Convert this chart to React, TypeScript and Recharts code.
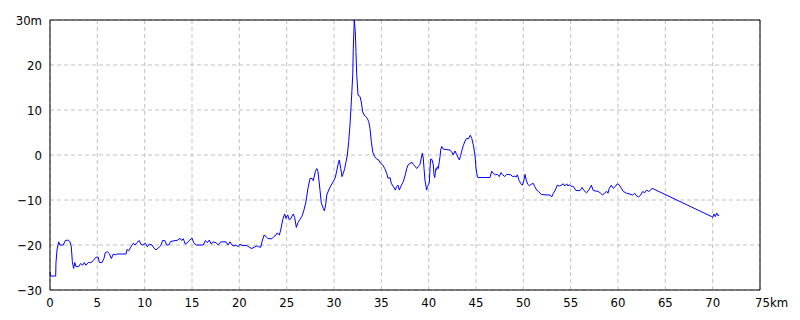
import { LineChart, Line, XAxis, YAxis, CartesianGrid, ReferenceLine } from "recharts";

// distance along the route (km)
const distKm = [
  0.0, 0.07, 0.6, 0.63, 0.74, 0.92, 1.06, 1.4, 1.62, 1.93, 2.11, 2.25, 2.36, 2.5, 2.61, 2.75, 3.03, 3.24, 3.45, 3.62,
  3.8, 4.05, 4.3, 4.57, 4.86, 5.1, 5.21, 5.49, 5.7, 5.84, 6.05, 6.26, 6.48, 6.69, 6.9, 7.11, 8.03, 8.13, 8.31, 8.52,
  8.8, 8.98, 9.16, 9.43, 9.58, 9.79, 10.07, 10.28, 10.49, 10.77, 10.99, 11.2, 11.41, 11.69, 11.9, 12.12, 12.33, 12.54, 12.75, 13.31,
  13.52, 13.73, 13.91, 14.08, 14.29, 14.5, 14.71, 15.0, 15.21, 15.42, 16.19, 16.41, 16.62, 16.83, 17.04, 17.25, 17.54, 17.78, 18.03, 18.59,
  18.8, 19.01, 19.23, 19.44, 19.65, 19.86, 20.07, 20.28, 20.78, 21.05, 21.31, 21.55, 21.83, 22.05, 22.26, 22.39, 22.61, 22.82, 23.03, 23.45,
  23.66, 23.87, 24.01, 24.22, 24.37, 24.58, 24.79, 24.93, 25.11, 25.28, 25.43, 25.56, 25.7, 25.85, 26.02, 26.2, 26.41, 26.62, 26.83, 27.04,
  27.25, 27.47, 27.68, 27.81, 28.03, 28.17, 28.31, 28.52, 28.66, 28.87, 28.98, 29.12, 29.23, 29.44, 29.65, 29.86, 30.0, 30.14, 30.29, 30.42,
  30.56, 30.71, 30.84, 30.98, 31.13, 31.27, 31.41, 31.55, 31.69, 31.83, 31.98, 32.04, 32.14, 32.25, 32.32, 32.4, 32.54, 32.75, 32.88, 33.03,
  33.17, 33.38, 33.52, 33.67, 33.8, 33.94, 34.09, 34.3, 34.51, 34.72, 34.93, 35.14, 35.36, 35.57, 35.71, 35.92, 36.05, 36.26, 36.48, 36.62,
  36.76, 36.9, 37.05, 37.32, 37.53, 37.68, 37.85, 38.03, 38.24, 38.38, 38.59, 38.74, 38.9, 39.08, 39.22, 39.33, 39.43, 39.51, 39.61, 39.72,
  39.79, 39.86, 40.0, 40.07, 40.14, 40.21, 40.35, 40.49, 40.56, 40.64, 40.7, 40.77, 40.85, 40.91, 41.02, 41.12, 41.2, 41.27, 41.38, 41.55,
  42.25, 42.43, 42.6, 42.78, 42.96, 43.13, 43.24, 43.38, 43.52, 43.66, 43.84, 44.02, 44.19, 44.4, 44.55, 44.72, 44.89, 45.0, 45.11, 45.21,
  46.48, 46.66, 46.83, 47.04, 47.25, 47.46, 47.64, 47.82, 48.03, 48.24, 48.67, 48.88, 49.09, 49.23, 49.37, 49.54, 49.72, 49.89, 50.04, 50.18,
  50.31, 50.46, 50.63, 50.84, 51.05, 51.2, 51.41, 51.62, 51.9, 52.82, 53.0, 53.17, 53.38, 53.59, 53.8, 54.01, 54.22, 54.37, 54.58, 54.72,
  54.86, 55.0, 55.28, 55.56, 55.99, 56.2, 56.41, 56.69, 56.97, 57.18, 57.39, 57.92, 58.17, 58.38, 58.59, 58.81, 58.94, 59.08, 59.29, 59.5,
  59.72, 59.93, 60.14, 60.35, 60.56, 60.92, 61.27, 61.55, 61.76, 61.97, 62.19, 62.4, 62.61, 62.82, 63.03, 63.24, 63.45, 63.59, 63.8, 69.9,
  70.0, 70.14, 70.28, 70.43, 70.57, 70.7,
];

// height (m)
const heightM = [
  -26.0, -26.9, -26.9, -24.0, -21.1, -19.3, -20.0, -20.0, -19.0, -18.9, -19.3, -20.4, -23.7, -25.2, -23.9, -24.8, -24.8, -24.1, -24.5, -23.9,
  -24.5, -23.9, -23.9, -23.5, -22.7, -22.7, -23.9, -23.9, -23.0, -21.7, -21.5, -21.9, -23.0, -22.0, -22.2, -22.0, -22.0, -21.0, -21.3, -20.5,
  -19.6, -20.0, -19.5, -19.0, -19.8, -20.0, -19.6, -20.4, -19.8, -20.0, -20.7, -21.1, -20.7, -20.2, -19.0, -19.0, -20.0, -20.0, -19.2, -19.0,
  -18.9, -18.5, -19.0, -18.6, -19.8, -19.5, -19.0, -18.5, -19.6, -20.0, -20.0, -19.0, -19.5, -18.9, -19.8, -19.3, -19.5, -20.0, -19.3, -19.3,
  -20.0, -19.3, -20.0, -20.2, -20.0, -20.4, -19.8, -20.1, -20.1, -20.5, -20.8, -20.5, -20.2, -20.4, -20.5, -19.3, -17.8, -18.1, -18.6, -18.6,
  -18.1, -17.8, -17.3, -17.8, -16.7, -14.4, -13.1, -14.1, -13.3, -14.4, -14.2, -13.6, -13.1, -13.9, -16.1, -15.0, -14.3, -13.6, -12.2, -10.4,
  -7.4, -5.2, -5.2, -5.7, -3.7, -3.0, -3.7, -7.8, -10.7, -11.9, -12.4, -11.1, -8.9, -7.8, -6.9, -6.1, -5.6, -5.0, -3.5, -2.2,
  -1.1, -3.0, -4.8, -4.1, -3.0, -1.5, 0.0, 3.0, 6.7, 11.8, 17.8, 23.7, 30.0, 27.4, 23.0, 17.8, 13.3, 13.0, 11.8, 9.6,
  8.9, 8.5, 8.1, 7.4, 5.9, 3.0, 0.7, -0.4, -0.9, -1.1, -1.9, -2.2, -3.0, -4.1, -5.2, -5.0, -6.3, -7.0, -7.8, -7.0,
  -6.7, -7.8, -7.0, -5.9, -4.4, -3.0, -2.1, -1.9, -1.6, -2.1, -2.6, -3.0, -2.6, -2.1, -0.7, 0.4, -0.7, -3.0, -5.6, -7.0,
  -7.8, -7.0, -6.5, -6.1, -3.0, -0.9, -1.0, -2.2, -4.4, -5.0, -4.1, -3.0, -3.3, -2.6, -3.0, -1.5, -0.4, 1.1, 1.9, 1.3,
  1.1, 0.7, 0.0, 0.9, 0.1, -0.7, -1.1, -0.1, 1.1, 2.1, 3.1, 3.7, 3.6, 4.4, 3.7, 2.2, 0.0, -3.0, -4.4, -5.0,
  -5.0, -3.6, -4.1, -4.4, -4.3, -4.8, -3.9, -4.4, -4.8, -4.3, -4.4, -4.8, -4.7, -4.9, -4.4, -5.6, -6.3, -6.7, -5.8, -4.3,
  -5.6, -6.5, -6.8, -6.5, -6.3, -7.0, -7.8, -8.1, -8.8, -8.9, -9.3, -8.5, -7.8, -6.7, -6.9, -6.7, -6.4, -6.9, -6.4, -6.9,
  -6.6, -6.9, -7.0, -7.9, -7.9, -7.2, -7.9, -8.4, -7.6, -6.7, -7.9, -8.1, -8.5, -8.9, -8.4, -8.1, -8.5, -7.4, -6.7, -7.4,
  -7.0, -6.4, -6.7, -7.4, -8.1, -8.5, -8.7, -8.9, -8.5, -9.1, -9.3, -8.9, -8.1, -8.4, -7.8, -8.1, -7.8, -7.4, -7.6, -13.7,
  -13.9, -13.1, -13.7, -12.9, -13.5, -13.3,
];

const xTicks = [0, 5, 10, 15, 20, 25, 30, 35, 40, 45, 50, 55, 60, 65, 70, 75];
const yTicks = [-30, -20, -10, 0, 10, 20, 30];

const data = distKm.map((km, i) => ({ km, m: heightM[i] }));

const FONT = "'Liberation Sans Narrow', 'DejaVu Sans Condensed', sans-serif";

const fmt = (v: number) => String(v).replace("-", "\u2212");

const XTick = ({ x, y, payload }: any) => {
  const last = payload.value === 75;
  return (
    <text
      x={last ? x - 5 : x}
      y={y}
      dy="0.71em"
      textAnchor={last ? "start" : "middle"}
      fontSize={13}
      fontFamily={FONT}
      fill="#000"
    >
      {last ? "75km" : payload.value}
    </text>
  );
};

export default function App() {
  return (
    <div style={{ position: "absolute", left: 0, top: 0, width: 800, height: 320, background: "#fff" }}>
      <LineChart width={800} height={320} data={data} margin={{ top: 20, right: 40, bottom: 0, left: 0 }}>
        <CartesianGrid stroke="#c0c0c0" strokeDasharray="4 3" />
        <XAxis
          dataKey="km"
          type="number"
          domain={[0, 75]}
          ticks={xTicks}
          height={30}
          tickLine={false}
          axisLine={{ stroke: "#000" }}
          tick={<XTick />}
          interval={0}
        />
        <YAxis
          type="number"
          domain={[-30, 30]}
          ticks={yTicks}
          width={50}
          tickLine={false}
          axisLine={{ stroke: "#000" }}
          tickFormatter={(v: number) => (v === 30 ? "30m" : fmt(v))}
          tick={{ fill: "#000", fontSize: 13, fontFamily: FONT }}
          interval={0}
        />
        <ReferenceLine y={30} stroke="#000" />
        <ReferenceLine x={75} stroke="#000" />
        <Line
          type="linear"
          dataKey="m"
          stroke="#0000ff"
          strokeWidth={1}
          dot={false}
          isAnimationActive={false}
        />
      </LineChart>
    </div>
  );
}
